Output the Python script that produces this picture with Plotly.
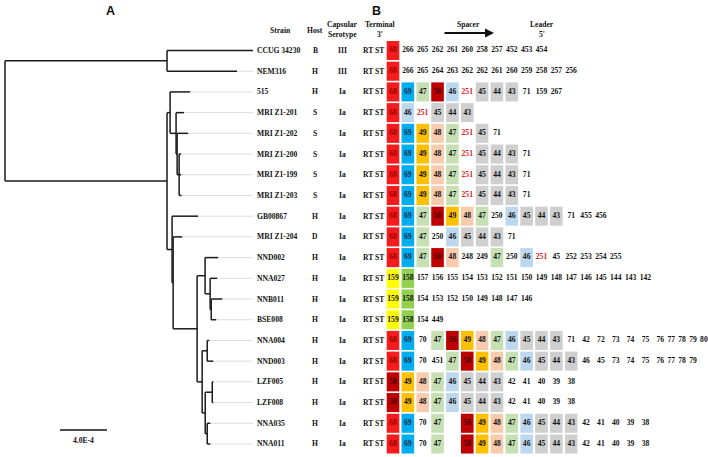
import plotly.graph_objects as go

# ---------------- data ----------------
strains = ["CCUG 34230", "NEM316", "515", "MRI Z1-201", "MRI Z1-202", "MRI Z1-200",
           "MRI Z1-199", "MRI Z1-203", "GB00867", "MRI Z1-204", "NND002", "NNA027",
           "NNB011", "BSE008", "NNA004", "NND003", "LZF005", "LZF008", "NNA035", "NNA011"]
hosts = ["B", "H", "H", "S", "S", "S", "S", "S", "H", "D",
         "H", "H", "H", "H", "H", "H", "H", "H", "H", "H"]
serotypes = ["III", "III", "Ia", "Ia", "Ia", "Ia", "Ia", "Ia", "Ia", "Ia",
             "Ia", "Ia", "Ia", "Ia", "Ia", "Ia", "Ia", "Ia", "Ia", "Ia"]
terminal = ["RT ST"] * 20

# Phylogeny (branch lengths in units of 1e-4 substitutions/site)
tree_newick = ("((CCUG 34230:7.32,NEM316:5.96):13.79,"
               "((515:1.70,(MRI Z1-201:0.68,(MRI Z1-202:0.94,(MRI Z1-200:0.17,MRI Z1-199:0.17,"
               "MRI Z1-203:0.20):0.17):0.09):0.51):0.26,"
               "(GB00867:2.21,(MRI Z1-204:0.77,((NND002:1.11,(NNA027:0.60,(NNB011:0.94,"
               "BSE008:0.43):0.09):0.43):0.68,((NNA004:0.17,NND003:0.51):0.43,"
               "((LZF005:0.09,LZF008:0.09):0.60,(NNA035:0.26,NNA011:0.26):0.17):0.26):0.43)"
               ":2.04):0.09):0.43):13.79);")
scale_bar_value = 4.0  # x 1e-4
scale_bar_label = "4.0E-4"

# Spacer arrays, terminal 3' -> leader 5'. "*" = shared (shaded) spacer, "-" = missing
spacers = [
    "68* 266 265 262 261 260 258 257 452 453 454",
    "68* 266 265 264 263 262 262 261 260 259 258 257 256",
    "68* 69* 47* 50* 46* 251 45* 44* 43* 71 159 267",
    "68* 46* 251 45* 44* 43*",
    "68* 69* 49* 48* 47* 251 45* 71",
    "68* 69* 49* 48* 47* 251 45* 44* 43* 71",
    "68* 69* 49* 48* 47* 251 45* 44* 43* 71",
    "68* 69* 49* 48* 47* 251 45* 44* 43* 71",
    "68* 69* 47* 50* 49* 48* 47* 250 46* 45* 44* 43* 71 455 456",
    "68* 69* 47* 250 46* 45* 44* 43* 71",
    "68* 69* 47* 50* 48* 248 249 47* 250 46* 251 45 252 253 254 255",
    "159* 158* 157 156 155 154 153 152 151 150 149 148 147 146 145 144 143 142",
    "159* 158* 154 153 152 150 149 148 147 146",
    "159* 158* 154 449",
    "68* 69* 70 47* 50* 49* 48* 47* 46* 45* 44* 43* 71 42 72 73 74 75 76 77 78 79 80",
    "68* 69* 70 451 47* 50* 49* 48* 47* 46* 45* 44* 43* 46 45 73 74 75 76 77 78 79",
    "50* 49* 48* 47* 46* 45* 44* 43* 42 41 40 39 38",
    "50* 49* 48* 47* 46* 45* 44* 43* 42 41 40 39 38",
    "68* 69* 70 47* - 50* 49* 48* 47* 46* 45* 44* 43* 42 41 40 39 38",
    "68* 69* 70 47* - 50* 49* 48* 47* 46* 45* 44* 43* 42 41 40 39 38",
]

# ---------------- styles ----------------
fill_colors = {"68": "#F41C1C", "69": "#00AEEF", "47": "#C6E0B4", "50": "#BE0000",
               "46": "#BDD7EE", "49": "#FFC000", "48": "#F8CBAD", "45": "#CFCFCF",
               "44": "#CFCFCF", "43": "#CFCFCF", "159": "#FFFF00", "158": "#92D050"}
text_colors = {"68": "#9E0000", "50": "#3F0000", "69": "#14284A", "251": "#D42020"}
DEFAULT_TXT = "#111111"
SERIF = "Liberation Serif"
FS = 7.6

W, H = 708, 457
# pixel geometry of axes
TREE_X0, TREE_PX = 5.0, 11.75          # root pixel, px per 1e-4
ROW0, ROW_PX = 50.5, 20.71              # first row pixel, row pitch
COL0, COL_PX = 393.0, 14.85             # first spacer column pixel, column pitch
TAIL_FROM, TAIL_RATIO = 18, 0.734       # compressed tail for very long arrays
CELL_W, CELL_H = 0.424, 0.46            # half sizes in axis units
LABEL_PX = 255


def px_x(p):
    return p / W


def px_y(p):
    return 1 - p / H


def col_pos(j):
    return j if j <= TAIL_FROM else TAIL_FROM + (j - TAIL_FROM) * TAIL_RATIO


# ---------------- tree ----------------
def parse_newick(s):
    pos = 0

    def node():
        nonlocal pos
        children = []
        if s[pos] == "(":
            pos += 1
            while True:
                children.append(node())
                if s[pos] == ",":
                    pos += 1
                    continue
                pos += 1
                break
        st = pos
        while s[pos] not in ":,);":
            pos += 1
        name = s[st:pos].strip()
        length = 0.0
        if s[pos] == ":":
            pos += 1
            st = pos
            while s[pos] not in ",);":
                pos += 1
            length = float(s[st:pos])
        return {"name": name, "len": length, "children": children}

    return node()


tree = parse_newick(tree_newick)
leaf_row = {n: i for i, n in enumerate(strains)}


def place(nd, x0):
    nd["x"] = x0 + nd["len"]
    if nd["children"]:
        for c in nd["children"]:
            place(c, nd["x"])
        nd["y"] = (nd["children"][0]["y"] + nd["children"][-1]["y"]) / 2
    else:
        nd["y"] = leaf_row[nd["name"]]


place(tree, 0.0)

tx, ty = [], []
leaves = []


def segs(nd, parent_x=None):
    if parent_x is not None:
        tx.extend([parent_x, nd["x"], None])
        ty.extend([nd["y"], nd["y"], None])
    if nd["children"]:
        tx.extend([nd["x"], nd["x"], None])
        ty.extend([nd["children"][0]["y"], nd["children"][-1]["y"], None])
        for c in nd["children"]:
            segs(c, nd["x"])
    else:
        leaves.append(nd)


segs(tree)

label_x = (LABEL_PX - 2 - TREE_X0) / TREE_PX
gx, gy = [], []
for lf in leaves:
    if lf["x"] < label_x - 0.05:
        gx.extend([lf["x"], label_x, None])
        gy.extend([lf["y"], lf["y"], None])

fig = go.Figure()
fig.add_trace(go.Scatter(x=gx, y=gy, mode="lines", line=dict(color="#D3D3D3", width=0.8),
                         hoverinfo="skip", xaxis="x", yaxis="y"))
fig.add_trace(go.Scatter(x=tx, y=ty, mode="lines", line=dict(color="#1A1A1A", width=1.5),
                         hoverinfo="skip", xaxis="x", yaxis="y"))

# scale bar
sb_x0 = (60 - TREE_X0) / TREE_PX
sb_y = (430 - ROW0) / ROW_PX
fig.add_trace(go.Scatter(x=[sb_x0, sb_x0 + scale_bar_value], y=[sb_y, sb_y], mode="lines",
                         line=dict(color="#111", width=1.6), hoverinfo="skip"))
fig.add_annotation(x=sb_x0 + scale_bar_value / 2, y=(440.5 - ROW0) / ROW_PX, xref="x", yref="y",
                   text=scale_bar_label, showarrow=False, xanchor="center", yanchor="middle",
                   font=dict(family=SERIF, size=FS, color="#111", weight="bold"))

# ---------------- table ----------------
shapes = []
groups = {}
for i, row in enumerate(spacers):
    for j, tok in enumerate(row.split()):
        if tok == "-":
            continue
        shaded = tok.endswith("*")
        val = tok.rstrip("*")
        xc = col_pos(j)
        if shaded:
            shapes.append(dict(type="rect", xref="x2", yref="y",
                               x0=xc - CELL_W, x1=xc + CELL_W, y0=i - CELL_H, y1=i + CELL_H,
                               fillcolor=fill_colors.get(val, "#CFCFCF"), line=dict(width=0),
                               layer="below"))
        col = text_colors.get(val, DEFAULT_TXT)
        g = groups.setdefault(col, ([], [], []))
        g[0].append(xc)
        g[1].append(i)
        g[2].append(val)

for col, (xs, ys, ts) in groups.items():
    fig.add_trace(go.Scatter(x=xs, y=ys, text=ts, mode="text", xaxis="x2", yaxis="y",
                             textposition="middle center", hoverinfo="skip",
                             textfont=dict(family=SERIF, size=FS, color=col, weight="bold")))


def txt(x, y, t, xref="paper", yref="paper", xanchor="center", size=FS, family=SERIF):
    fig.add_annotation(x=x, y=y, xref=xref, yref=yref, text=t, showarrow=False,
                       xanchor=xanchor, yanchor="middle",
                       font=dict(family=family, size=size, color="#111", weight="bold"))


# row labels
for i in range(len(strains)):
    txt(px_x(LABEL_PX), i, strains[i], yref="y", xanchor="left")
    txt(px_x(315), i, hosts[i], yref="y")
    txt(px_x(342), i, serotypes[i], yref="y")
    txt(px_x(373.5), i, terminal[i], yref="y")

# headers
hdr = [("Strain", 280, 30), ("Host", 315, 30), ("Capsular", 342, 25), ("Serotype", 342, 35),
       ("Terminal", 380, 25), ("3'", 380, 35), ("Spacer", 468, 25),
       ("Leader", 542, 25), ("5'", 542, 35)]
for t, xp, yp in hdr:
    txt(px_x(xp), px_y(yp), t)
fig.add_annotation(x=px_x(494), y=px_y(33), xref="paper", yref="paper", text="",
                   showarrow=True, ax=-51, ay=0, arrowhead=2, arrowsize=0.9, arrowwidth=2,
                   arrowcolor="#111")
for t, xp in (("A", 110), ("B", 376)):
    txt(px_x(xp), px_y(11), t, size=12.5, family="Liberation Sans")

fig.update_layout(
    width=W, height=H, margin=dict(l=0, r=0, t=0, b=0),
    paper_bgcolor="white", plot_bgcolor="white", showlegend=False,
    shapes=shapes,
    xaxis=dict(range=[-TREE_X0 / TREE_PX, (W - TREE_X0) / TREE_PX], visible=False,
               domain=[0, 1], fixedrange=True),
    xaxis2=dict(range=[-COL0 / COL_PX, (W - COL0) / COL_PX], visible=False,
                overlaying="x", anchor="y", fixedrange=True),
    yaxis=dict(range=[(H - ROW0) / ROW_PX, -ROW0 / ROW_PX], visible=False, fixedrange=True),
)

fig.write_html("out.html", config={"displayModeBar": False},
               post_script="document.body.style.margin='0';")
